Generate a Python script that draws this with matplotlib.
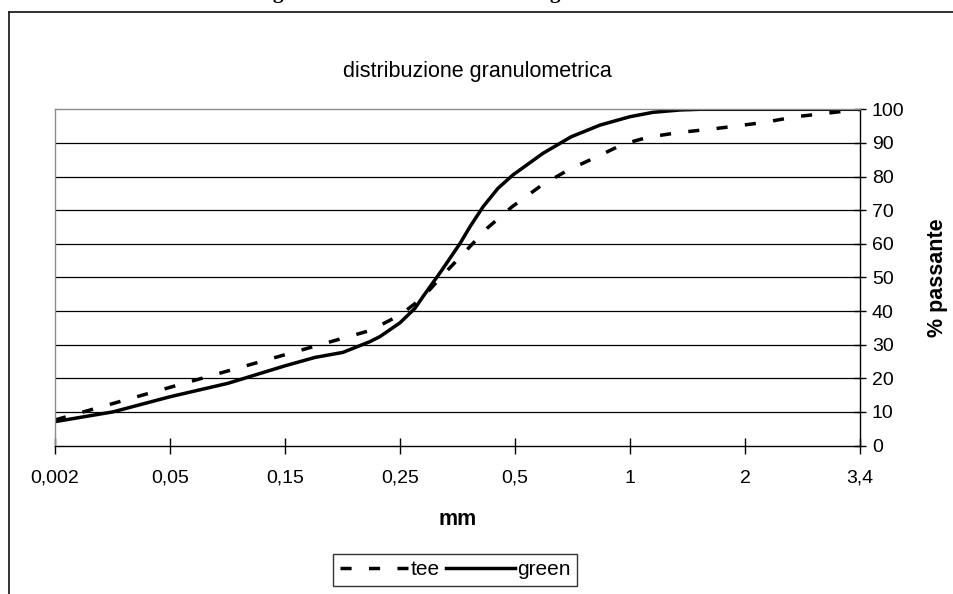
import matplotlib
matplotlib.use("Agg")
import matplotlib.pyplot as plt
from matplotlib.lines import Line2D

plt.rcParams['font.family'] = ['Liberation Sans', 'DejaVu Sans']
plt.rcParams['lines.scale_dashes'] = False

# ---- data (x in category-index units: 0 = "0,002" ... 7 = "3,4") ----
tick_labels = ["0,002", "0,05", "0,15", "0,25", "0,5", "1", "2", "3,4"]

green_x = [0.0, 0.504, 1.0, 1.504, 2.0, 2.261, 2.504, 2.739, 2.826, 3.0, 3.130,
           3.2, 3.365, 3.522, 3.609, 3.722, 3.852, 3.983, 4.243, 4.487, 4.739,
           5.0, 5.2, 5.435, 5.609, 7.0]
green_y = [7.1, 10.0, 14.5, 18.5, 23.7, 26.2, 27.7, 30.9, 32.4, 36.5, 40.8,
           44.3, 52.2, 60.1, 65.1, 71.0, 76.5, 80.5, 86.9, 91.8, 95.3,
           97.8, 99.1, 99.8, 100.0, 100.0]

tee_x = [0.0, 1.0, 2.0, 2.739, 3.0, 3.191, 3.374, 3.565, 3.757, 3.974, 4.235,
         4.461, 4.713, 4.939, 5.157, 5.426, 5.704, 5.965, 6.183, 6.443, 6.704, 7.0]
tee_y = [7.6, 17.3, 27.0, 34.2, 38.8, 43.8, 50.7, 57.6, 64.6, 71.0, 77.5,
         81.9, 85.9, 89.6, 91.7, 93.1, 94.1, 95.2, 96.2, 97.8, 98.8, 100.0]

y_ticks = list(range(0, 101, 10))

W, H = 954, 594
fig = plt.figure(figsize=(W / 100, H / 100), dpi=100)

def fx(px):
    return px / W

def fy(py):
    return 1 - py / H

# outer chart border (partially cropped in the reference)
fig.add_artist(Line2D([fx(9), fx(9)], [fy(12), 0], color='#222222', lw=1.3))
fig.add_artist(Line2D([fx(9), 1], [fy(12), fy(12)], color='#222222', lw=1.3))

# cropped descenders of a heading above the chart
for gx in (278, 555):
    fig.text(fx(gx), fy(-2.5), "g", ha='center', va='baseline',
             family='Liberation Serif', weight='bold', fontsize=15)

left, right, top, bottom = 55, 860, 109.3, 445.5
ax = fig.add_axes([fx(left), fy(bottom), (right - left) / W, (bottom - top) / H])

ax.plot(tee_x, tee_y, color='black', lw=2.5, dashes=(8, 12.5), label='tee',
        solid_capstyle='butt', dash_capstyle='butt')
ax.plot(green_x, green_y, color='black', lw=2.5, label='green',
        solid_joinstyle='round')

ax.set_xlim(0, 7)
ax.set_ylim(0, 100)
ax.set_xticks(range(len(tick_labels)))
ax.set_xticklabels(tick_labels)
ax.set_yticks(y_ticks)
ax.yaxis.tick_right()
ax.yaxis.set_label_position('right')

for yv in y_ticks[1:-1]:
    ax.axhline(yv, color='black', lw=0.9, zorder=0)

ax.spines['left'].set_color('#8c8c8c')
ax.spines['top'].set_color('#8c8c8c')
ax.spines['right'].set_color('black')
ax.spines['bottom'].set_color('black')
for s in ax.spines.values():
    s.set_linewidth(1.0)

ax.tick_params(axis='x', direction='inout', length=11, width=1.0, pad=12,
               labelsize=14)
ax.tick_params(axis='y', direction='inout', length=9, width=1.0, pad=4,
               labelsize=14)

ax.set_xlabel("mm", fontsize=15.5, fontweight='bold', labelpad=16)
ax.set_ylabel("% passante", fontsize=15.5, fontweight='bold', labelpad=16)

fig.text(fx(477), fy(71), "distribuzione granulometrica", ha='center',
         va='center', fontsize=15.5)

leg = fig.legend(loc='upper center', bbox_to_anchor=(fx(455), fy(554)),
                 ncol=2, frameon=True, fancybox=False, edgecolor='black',
                 fontsize=15, handlelength=3.3, handletextpad=0.1,
                 columnspacing=0.3, borderpad=0.3, borderaxespad=0)
leg.get_frame().set_linewidth(1.0)

fig.savefig("out.png", dpi=100)
